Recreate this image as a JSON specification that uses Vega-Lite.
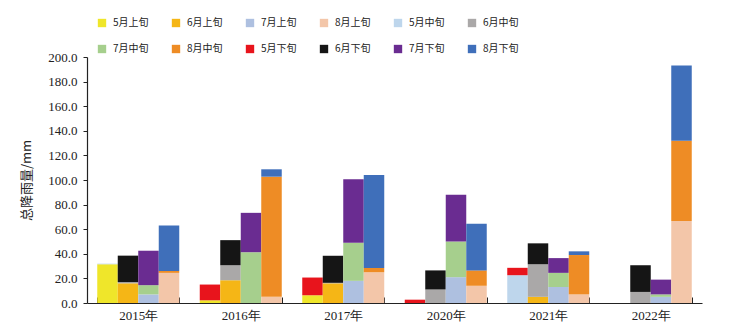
{
  "$schema": "https://vega.github.io/schema/vega-lite/v6.json",
  "width": 615,
  "height": 246,
  "autosize": {"type": "none"},
  "padding": {"left": 87, "top": 57, "right": 27, "bottom": 29},
  "background": "white",
  "data": {
    "values": [
      {"year": "2015年", "m": "5", "s": "5月上旬", "k": 1, "v": 31.5},
      {"year": "2015年", "m": "5", "s": "5月中旬", "k": 2, "v": 0.5},
      {"year": "2015年", "m": "5", "s": "5月下旬", "k": 3, "v": 0},
      {"year": "2015年", "m": "6", "s": "6月上旬", "k": 1, "v": 16},
      {"year": "2015年", "m": "6", "s": "6月中旬", "k": 2, "v": 1},
      {"year": "2015年", "m": "6", "s": "6月下旬", "k": 3, "v": 21.5},
      {"year": "2015年", "m": "7", "s": "7月上旬", "k": 1, "v": 7},
      {"year": "2015年", "m": "7", "s": "7月中旬", "k": 2, "v": 7.5},
      {"year": "2015年", "m": "7", "s": "7月下旬", "k": 3, "v": 28},
      {"year": "2015年", "m": "8", "s": "8月上旬", "k": 1, "v": 24.5},
      {"year": "2015年", "m": "8", "s": "8月中旬", "k": 2, "v": 1.6},
      {"year": "2015年", "m": "8", "s": "8月下旬", "k": 3, "v": 37},

      {"year": "2016年", "m": "5", "s": "5月上旬", "k": 1, "v": 2.2},
      {"year": "2016年", "m": "5", "s": "5月中旬", "k": 2, "v": 0},
      {"year": "2016年", "m": "5", "s": "5月下旬", "k": 3, "v": 12.8},
      {"year": "2016年", "m": "6", "s": "6月上旬", "k": 1, "v": 18.5},
      {"year": "2016年", "m": "6", "s": "6月中旬", "k": 2, "v": 12.2},
      {"year": "2016年", "m": "6", "s": "6月下旬", "k": 3, "v": 20.4},
      {"year": "2016年", "m": "7", "s": "7月上旬", "k": 1, "v": 0},
      {"year": "2016年", "m": "7", "s": "7月中旬", "k": 2, "v": 41.3},
      {"year": "2016年", "m": "7", "s": "7月下旬", "k": 3, "v": 32},
      {"year": "2016年", "m": "8", "s": "8月上旬", "k": 1, "v": 5},
      {"year": "2016年", "m": "8", "s": "8月中旬", "k": 2, "v": 97.7},
      {"year": "2016年", "m": "8", "s": "8月下旬", "k": 3, "v": 6},

      {"year": "2017年", "m": "5", "s": "5月上旬", "k": 1, "v": 6.3},
      {"year": "2017年", "m": "5", "s": "5月中旬", "k": 2, "v": 0},
      {"year": "2017年", "m": "5", "s": "5月下旬", "k": 3, "v": 14.4},
      {"year": "2017年", "m": "6", "s": "6月上旬", "k": 1, "v": 16},
      {"year": "2017年", "m": "6", "s": "6月中旬", "k": 2, "v": 0.4},
      {"year": "2017年", "m": "6", "s": "6月下旬", "k": 3, "v": 22},
      {"year": "2017年", "m": "7", "s": "7月上旬", "k": 1, "v": 18},
      {"year": "2017年", "m": "7", "s": "7月中旬", "k": 2, "v": 31},
      {"year": "2017年", "m": "7", "s": "7月下旬", "k": 3, "v": 51.7},
      {"year": "2017年", "m": "8", "s": "8月上旬", "k": 1, "v": 25},
      {"year": "2017年", "m": "8", "s": "8月中旬", "k": 2, "v": 3.5},
      {"year": "2017年", "m": "8", "s": "8月下旬", "k": 3, "v": 75.5},

      {"year": "2020年", "m": "5", "s": "5月上旬", "k": 1, "v": 0},
      {"year": "2020年", "m": "5", "s": "5月中旬", "k": 2, "v": 0},
      {"year": "2020年", "m": "5", "s": "5月下旬", "k": 3, "v": 2.7},
      {"year": "2020年", "m": "6", "s": "6月上旬", "k": 1, "v": 0},
      {"year": "2020年", "m": "6", "s": "6月中旬", "k": 2, "v": 11},
      {"year": "2020年", "m": "6", "s": "6月下旬", "k": 3, "v": 15.5},
      {"year": "2020年", "m": "7", "s": "7月上旬", "k": 1, "v": 21},
      {"year": "2020年", "m": "7", "s": "7月中旬", "k": 2, "v": 29},
      {"year": "2020年", "m": "7", "s": "7月下旬", "k": 3, "v": 38},
      {"year": "2020年", "m": "8", "s": "8月上旬", "k": 1, "v": 14},
      {"year": "2020年", "m": "8", "s": "8月中旬", "k": 2, "v": 12.5},
      {"year": "2020年", "m": "8", "s": "8月下旬", "k": 3, "v": 38},

      {"year": "2021年", "m": "5", "s": "5月上旬", "k": 1, "v": 0},
      {"year": "2021年", "m": "5", "s": "5月中旬", "k": 2, "v": 22.6},
      {"year": "2021年", "m": "5", "s": "5月下旬", "k": 3, "v": 6},
      {"year": "2021年", "m": "6", "s": "6月上旬", "k": 1, "v": 5},
      {"year": "2021年", "m": "6", "s": "6月中旬", "k": 2, "v": 26.5},
      {"year": "2021年", "m": "6", "s": "6月下旬", "k": 3, "v": 17},
      {"year": "2021年", "m": "7", "s": "7月上旬", "k": 1, "v": 13},
      {"year": "2021年", "m": "7", "s": "7月中旬", "k": 2, "v": 11.5},
      {"year": "2021年", "m": "7", "s": "7月下旬", "k": 3, "v": 12},
      {"year": "2021年", "m": "8", "s": "8月上旬", "k": 1, "v": 7},
      {"year": "2021年", "m": "8", "s": "8月中旬", "k": 2, "v": 32},
      {"year": "2021年", "m": "8", "s": "8月下旬", "k": 3, "v": 3},

      {"year": "2022年", "m": "5", "s": "5月上旬", "k": 1, "v": 0},
      {"year": "2022年", "m": "5", "s": "5月中旬", "k": 2, "v": 0},
      {"year": "2022年", "m": "5", "s": "5月下旬", "k": 3, "v": 0},
      {"year": "2022年", "m": "6", "s": "6月上旬", "k": 1, "v": 0},
      {"year": "2022年", "m": "6", "s": "6月中旬", "k": 2, "v": 9},
      {"year": "2022年", "m": "6", "s": "6月下旬", "k": 3, "v": 21.7},
      {"year": "2022年", "m": "7", "s": "7月上旬", "k": 1, "v": 5},
      {"year": "2022年", "m": "7", "s": "7月中旬", "k": 2, "v": 2},
      {"year": "2022年", "m": "7", "s": "7月下旬", "k": 3, "v": 12},
      {"year": "2022年", "m": "8", "s": "8月上旬", "k": 1, "v": 66.6},
      {"year": "2022年", "m": "8", "s": "8月中旬", "k": 2, "v": 65.4},
      {"year": "2022年", "m": "8", "s": "8月下旬", "k": 3, "v": 61}
    ]
  },
  "mark": {"type": "bar"},
  "encoding": {
    "x": {
      "field": "year",
      "type": "nominal",
      "sort": null,
      "scale": {"paddingInner": 0.2, "paddingOuter": 0.1},
      "axis": {
        "title": null,
        "labelAngle": 0,
        "tickBand": "extent",
        "tickSize": -6,
        "tickColor": "#222",
        "domainColor": "#222",
        "labelFont": "Liberation Serif",
        "labelFontSize": 13,
        "labelColor": "#222",
        "labelPadding": 12
      }
    },
    "xOffset": {
      "field": "m",
      "type": "nominal",
      "scale": {"domain": ["5", "6", "7", "8"], "paddingInner": 0, "paddingOuter": 0}
    },
    "y": {
      "field": "v",
      "type": "quantitative",
      "stack": "zero",
      "scale": {"domain": [0, 200], "nice": false},
      "axis": {
        "title": "总降雨量/mm",
        "titleFont": "Noto Sans CJK SC",
        "titleFontSize": 13,
        "titleFontWeight": "normal",
        "titleColor": "#222",
        "titlePadding": 14,
        "values": [0, 20, 40, 60, 80, 100, 120, 140, 160, 180, 200],
        "format": ".1f",
        "grid": false,
        "tickSize": 4,
        "tickColor": "#222",
        "domainColor": "#222",
        "labelFont": "Liberation Serif",
        "labelFontSize": 13,
        "labelColor": "#222",
        "labelPadding": 6
      }
    },
    "color": {
      "field": "s",
      "type": "nominal",
      "scale": {
        "domain": ["5月上旬", "6月上旬", "7月上旬", "8月上旬", "5月中旬", "6月中旬", "7月中旬", "8月中旬", "5月下旬", "6月下旬", "7月下旬", "8月下旬"],
        "range": ["#efe62a", "#f5b616", "#aec0e0", "#f3c6a9", "#bed6ec", "#aaa8a8", "#a6cf8d", "#ee8c25", "#e8141c", "#151515", "#6a2c91", "#3f6fba"]
      },
      "legend": {
        "title": null,
        "orient": "none",
        "legendX": 10,
        "legendY": -39,
        "direction": "horizontal",
        "columns": 6,
        "symbolType": "square",
        "symbolSize": 70,
        "symbolStrokeWidth": 0,
        "labelFont": "Noto Sans CJK SC",
        "labelFontSize": 10,
        "labelColor": "#222",
        "labelOffset": 6,
        "columnPadding": 22,
        "rowPadding": 16
      }
    },
    "order": {"field": "k", "type": "quantitative"}
  },
  "config": {
    "view": {"stroke": null},
    "axis": {"domainWidth": 1.2}
  }
}
